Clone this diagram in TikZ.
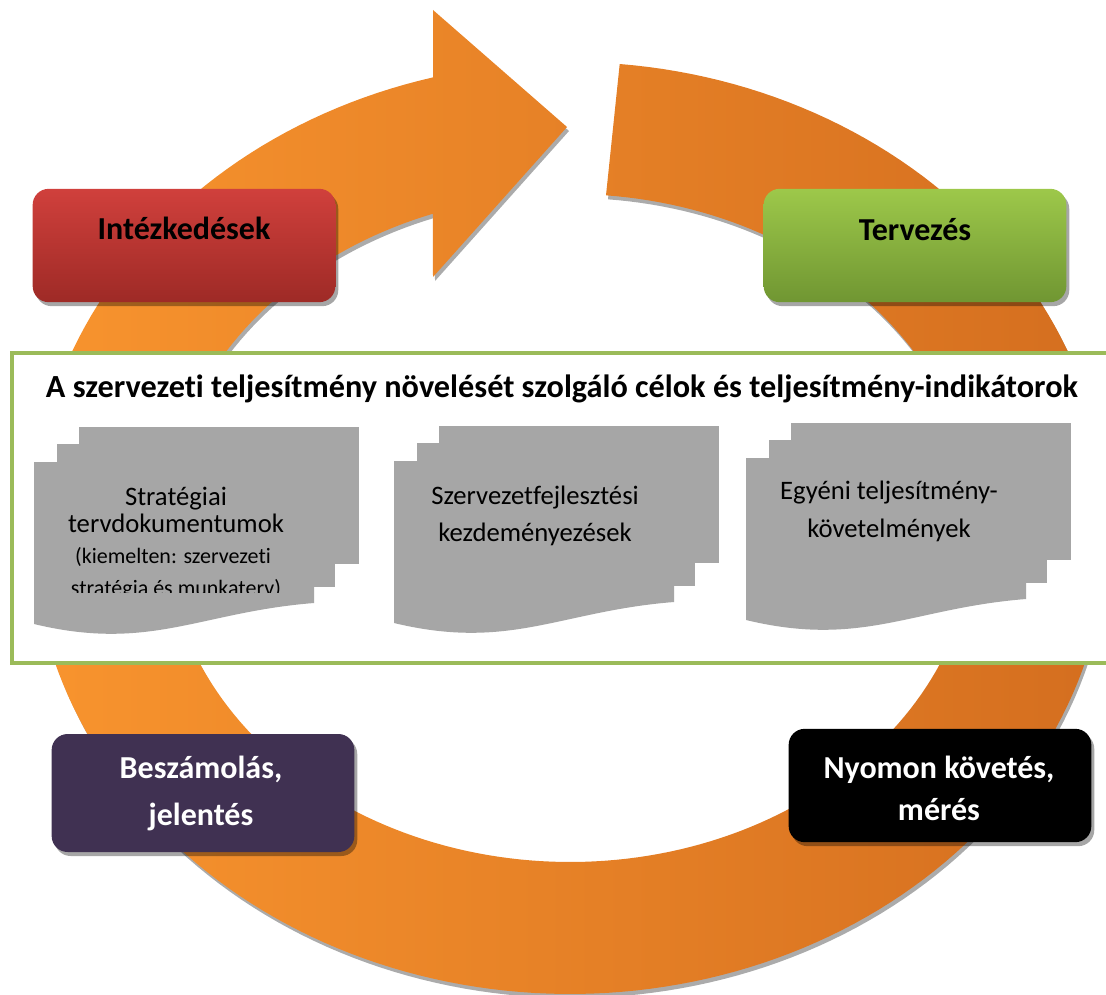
\documentclass[tikz,border=0pt]{standalone}
\usepackage{fontspec}
\setmainfont{Carlito}[Ligatures=NoCommon]
\usetikzlibrary{shadows}

\definecolor{ringleft}{RGB}{248,148,46}
\definecolor{ringright}{RGB}{212,110,31}
\definecolor{frameGreen}{RGB}{155,187,89}
\definecolor{redTop}{RGB}{208,64,60}
\definecolor{redBot}{RGB}{158,42,38}
\definecolor{grnTop}{RGB}{157,200,74}
\definecolor{grnBot}{RGB}{112,150,50}
\definecolor{plum}{RGB}{64,49,82}
\definecolor{paper}{RGB}{166,166,166}

% three stacked pages, front page with a wavy lower edge; #1,#2 = top-left of front page
\newcommand\docstack[2]{%
  \fill[paper] ({#1+45},{#2-35}) rectangle ({#1+325},{#2+102});
  \fill[paper] ({#1+23},{#2-18}) rectangle ({#1+301},{#2+125});
  \fill[paper] (#1,#2) -- ({#1+280},#2) -- ({#1+280},{#2+141})
     .. controls ({#1+166},{#2+150}) and ({#1+116},{#2+190}) .. (#1,{#2+162}) -- cycle;}

\tikzset{
  stagebox/.style={rounded corners=12pt, minimum width=227pt, minimum height=85pt,
    inner sep=0pt, drop shadow={shadow xshift=2.2pt, shadow yshift=-3pt, opacity=0.35, fill=black}},
  boxtext/.style={font=\fontsize{24}{29}\selectfont\bfseries, inner sep=0pt, anchor=base},
  doctext/.style={font=\fontsize{20}{24}\selectfont, inner sep=0pt, anchor=base},
  docsmall/.style={font=\fontsize{16.5}{20}\selectfont, inner sep=0pt, anchor=base},
}

\begin{document}
\begin{tikzpicture}[x=0.75pt, y=-0.75pt]
\useasboundingbox (0,0) rectangle (1106,995);

% shadow of the circular arrow
\begin{scope}[shift={(2,4)}]
\fill[black, opacity=0.33]
  plot[domain=84.7:-255.25, samples=220] ({570+538*cos(\x)},{528-466*sin(\x)})
  -- (433,10) -- (567,127) -- (433,277)
  -- plot[domain=-250.2:84.9, samples=220] ({570+405*cos(\x)},{528-334*sin(\x)}) -- cycle;
\end{scope}

% circular arrow
\shade[left color=ringleft, right color=ringright]
  plot[domain=84.7:-255.25, samples=220] ({570+538*cos(\x)},{528-466*sin(\x)})
  -- (433,10) -- (567,127) -- (433,277)
  -- plot[domain=-250.2:84.9, samples=220] ({570+405*cos(\x)},{528-334*sin(\x)}) -- cycle;

% central frame
\draw[frameGreen, line width=3pt, fill=white] (12,352.5) rectangle (1120,662.5);
\node[inner sep=0pt, anchor=base, font=\fontsize{24.2}{29}\selectfont\bfseries] (title) at (562,397)
  {A szervezeti teljesítmény növelését szolgáló célok és teljesítmény-indikátorok};

% document stacks
\docstack{34}{462}
\docstack{394}{461}
\docstack{746}{458}

\node[doctext] (d1a) at (176,505) {Stratégiai};
\node[doctext] (d1b) at (176,532) {tervdokumentumok};
\node[docsmall] (d1c) at (173,563) {(kiemelten: szervezeti};
\begin{scope}
  \clip (0,0) rectangle (1106,592);
  \node[docsmall] (d1d) at (176,595) {stratégia és munkaterv)};
\end{scope}

\node[doctext] (d2a) at (535,504) {Szervezetfejlesztési};
\node[doctext] (d2b) at (535,541) {kezdeményezések};

\node[doctext] (d3a) at (889,499) {Egyéni teljesítmény-};
\node[doctext] (d3b) at (889,537) {követelmények};

% cycle stages
\node[stagebox, top color=redTop, bottom color=redBot] (act) at (184,245.5) {};
\node[boxtext] (actlabel) at (184,239) {Intézkedések};

\node[stagebox, top color=grnTop, bottom color=grnBot] (plan) at (915,245.5) {};
\node[boxtext] (planlabel) at (915,240) {Tervezés};

\node[stagebox, fill=plum, minimum height=88.5pt] (report) at (203,793) {};
\node[boxtext, text=white] (reportA) at (201,778) {Beszámolás,};
\node[boxtext, text=white] (reportB) at (201,825) {jelentés};

\node[stagebox, fill=black] (monitor) at (940,785.5) {};
\node[boxtext, text=white] (monitorA) at (939,778) {Nyomon követés,};
\node[boxtext, text=white] (monitorB) at (939,820) {mérés};
\end{tikzpicture}
\end{document}
